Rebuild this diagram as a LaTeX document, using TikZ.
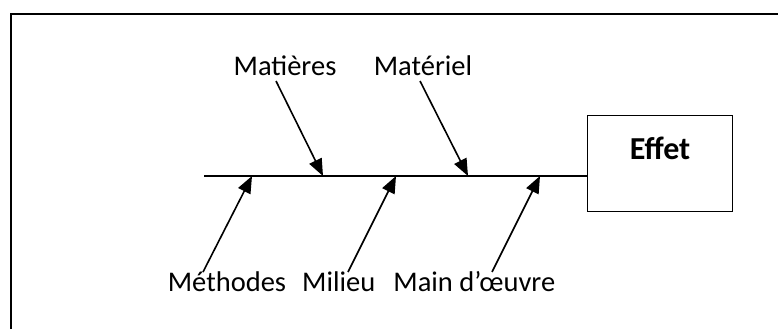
\documentclass[tikz,border=0pt]{standalone}
\usepackage{fontspec}
\setmainfont{Carlito}
\usetikzlibrary{arrows.meta}
\begin{document}
\begin{tikzpicture}[x=1pt,y=-1pt,
  cause/.style={-{Triangle[length=17pt,width=13.5pt]},line width=1.6pt},
  cause label/.style={anchor=base,inner sep=0pt,font=\fontsize{28.5}{34}\selectfont},
  effet box/.style={draw,line width=1.5pt,inner sep=0pt,minimum width=145pt,
    text height=44pt,text depth=52pt,font=\fontsize{32}{38}\selectfont\bfseries}]
\useasboundingbox (0,0) rectangle (778,329);
%frame
  \draw[line width=2pt] (11,329) -- (11,14) -- (778,14);
%effet
  \node[effet box] (effet) at (660,163.7) {Effet};
%spine
  \coordinate (tail) at (204,176);
  \draw[line width=2pt] (tail) -- (tail -| effet.west);
%top causes
  \node[cause label] (matieres) at (285,75.7) {Matières};
  \node[cause label] (materiel) at (423,75.7) {Matériel};
  \coordinate (s1) at (276,81);  \coordinate (t1) at (323,176);
  \coordinate (s2) at (420,81);  \coordinate (t2) at (468,176);
  \draw[cause] (s1) -- (t1);
  \draw[cause] (s2) -- (t2);
%bottom causes
  \node[cause label] (methodes) at (227,291.7) {Méthodes};
  \node[cause label] (milieu) at (338.7,291.7) {Milieu};
  \node[cause label] (main) at (474.3,291.7) {Main d’œuvre};
  \coordinate (s3) at (203,272);  \coordinate (t3) at (252,176);
  \coordinate (s4) at (348,272);  \coordinate (t4) at (396,176);
  \coordinate (s5) at (492,272);  \coordinate (t5) at (540,176);
  \draw[cause] (s3) -- (t3);
  \draw[cause] (s4) -- (t4);
  \draw[cause] (s5) -- (t5);
\end{tikzpicture}
\end{document}
